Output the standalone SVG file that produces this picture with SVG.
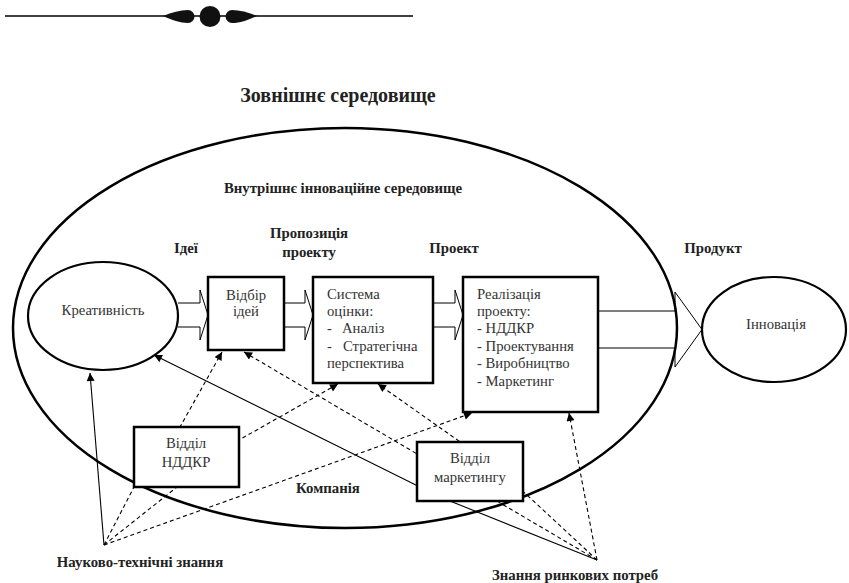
<svg xmlns="http://www.w3.org/2000/svg" width="849" height="583" viewBox="0 0 849 583">
  <style>
    .bg { fill: #ffffff; }
    .node { fill: #ffffff; stroke: #000; stroke-width: 2.5; }
    .env { fill: none; stroke: #000; stroke-width: 2.5; }
    .block { fill: none; stroke: #000; stroke-width: 1; }
    .conn { fill: none; stroke: #000; stroke-width: 1.1; }
    .dash { stroke-dasharray: 4 3; }
    .txt { font-family: "Liberation Serif", "DejaVu Serif", serif; font-size: 14.7px; fill: #333; }
    .lbl { font-family: "Liberation Serif", "DejaVu Serif", serif; font-size: 14.8px; font-weight: bold; fill: #222; }
    .title { font-size: 20px; }
    .mid { text-anchor: middle; }
  </style>
  <defs>
    <marker id="tip" viewBox="0 0 10 10" refX="10" refY="5" markerUnits="userSpaceOnUse" markerWidth="9" markerHeight="8" orient="auto">
      <path d="M0,0 L10,5 L0,10 z" fill="#000"/>
    </marker>
  </defs>

  <rect class="bg" x="0" y="0" width="849" height="583"/>

  <!-- decorative rule -->
  <g id="ornament" fill="#111">
    <rect x="5" y="15.2" width="408" height="1.6"/>
    <circle cx="210" cy="16.5" r="10.5"/>
    <path d="M163,16 C172,12.5 180,10 188,10 A6.5,6.5 0 0 1 188,23 C180,23 172,20 163,16 Z"/>
    <path d="M257,16 C248,12.5 240,10 232,10 A6.5,6.5 0 0 0 232,23 C240,23 248,20 257,16 Z"/>
  </g>

  <!-- external environment label -->
  <text class="lbl title mid" x="338" y="102">Зовнішнє середовище</text>

  <!-- internal innovation environment -->
  <g id="environment">
    <ellipse class="env" cx="345" cy="328" rx="332" ry="200"/>
    <text class="lbl mid" x="343" y="193">Внутрішнє інноваційне середовище</text>
    <text class="lbl mid" x="328" y="493">Компанія</text>
  </g>

  <!-- stage labels -->
  <g id="stage-labels">
    <text class="lbl mid" x="186" y="253">Ідеї</text>
    <text class="lbl mid" x="309" y="238">Пропозиція</text>
    <text class="lbl mid" x="309" y="257">проекту</text>
    <text class="lbl mid" x="454" y="253">Проект</text>
    <text class="lbl mid" x="713" y="253">Продукт</text>
    <text class="lbl mid" x="140" y="567">Науково-технічні знання</text>
    <text class="lbl mid" x="575" y="580">Знання ринкових потреб</text>
  </g>

  <!-- connectors -->
  <g id="connectors">
    <!-- block arrows along the main flow -->
    <path class="block" d="M178,303 H200 V290 L208,315 L200,340 V327 H178"/>
    <path class="block" d="M284,303 H305 V290 L313,315 L305,340 V327 H284"/>
    <path class="block" d="M433,303 H455 V290 L463,315 L455,340 V327 H433"/>
    <path class="block" d="M598,311 H675 V292 L702,329.5 L675,367 V348 H598"/>

    <!-- scientific and technical knowledge -->
    <path class="conn" d="M104,545 L90,373" marker-end="url(#tip)"/>
    <path class="conn dash" d="M104,545 L134,487 L180,427 L222,352" marker-end="url(#tip)"/>
    <path class="conn dash" d="M104,545 L177,487 L239,440 L338,384" marker-end="url(#tip)"/>
    <path class="conn dash" d="M104,545 L472,413" marker-end="url(#tip)"/>

    <!-- market needs knowledge -->
    <path class="conn" d="M597,560 L440,497 L154,355" marker-end="url(#tip)"/>
    <path class="conn dash" d="M597,560 L569,413" marker-end="url(#tip)"/>
    <path class="conn dash" d="M597,560 L244,352" marker-end="url(#tip)"/>
    <path class="conn dash" d="M597,560 L500,470 L378,384" marker-end="url(#tip)"/>
  </g>

  <!-- nodes -->
  <g id="creativity">
    <ellipse cx="103" cy="316" rx="75" ry="54" fill="#fff" stroke="#000" stroke-width="2.2"/>
    <text class="txt mid" x="103" y="315">Креативність</text>
  </g>

  <g id="idea-selection">
    <rect class="node" x="208" y="277" width="76" height="73"/>
    <text class="txt mid" x="246" y="300">Відбір</text>
    <text class="txt mid" x="246" y="316">ідей</text>
  </g>

  <g id="evaluation">
    <rect class="node" x="313" y="277" width="120" height="106"/>
    <text class="txt" x="327" y="299">Система</text>
    <text class="txt" x="327" y="316">оцінки:</text>
    <text class="txt" y="333"><tspan x="327">-</tspan><tspan x="342">Аналіз</tspan></text>
    <text class="txt" y="351"><tspan x="327">-</tspan><tspan x="343">Стратегічна</tspan></text>
    <text class="txt" x="327" y="368">перспектива</text>
  </g>

  <g id="implementation">
    <rect class="node" x="463" y="277" width="135" height="135"/>
    <text class="txt" x="477" y="299">Реалізація</text>
    <text class="txt" x="477" y="316">проекту:</text>
    <text class="txt" x="477" y="333">- НДДКР</text>
    <text class="txt" x="477" y="351">- Проектування</text>
    <text class="txt" x="477" y="368">- Виробництво</text>
    <text class="txt" x="477" y="386">- Маркетинг</text>
  </g>

  <g id="rd-department">
    <rect class="node" x="134" y="427" width="105" height="60"/>
    <text class="txt mid" x="186" y="448">Відділ</text>
    <text class="txt mid" x="186" y="467">НДДКР</text>
  </g>

  <g id="marketing-department">
    <rect class="node" x="417" y="442" width="106" height="59"/>
    <text class="txt mid" x="470" y="463">Відділ</text>
    <text class="txt mid" x="470" y="482">маркетингу</text>
  </g>

  <g id="innovation">
    <ellipse cx="774" cy="329.5" rx="72" ry="52.5" fill="#fff" stroke="#000" stroke-width="2.2"/>
    <text class="txt mid" x="776" y="329">Інновація</text>
  </g>
</svg>
